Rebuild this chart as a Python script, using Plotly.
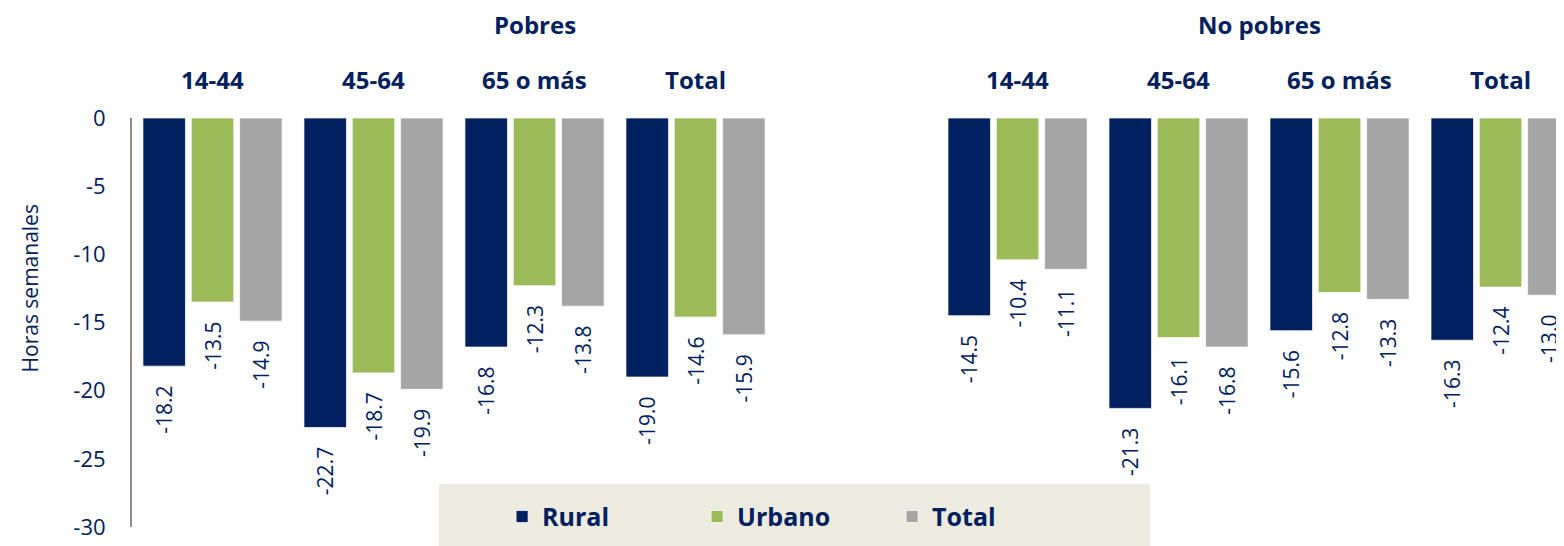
import plotly.graph_objects as go

# slots 0-3 = Pobres, slot 4 empty, slots 5-8 = No pobres
categories = ["14-44", "45-64", "65 o más", "Total", "", "14-44", "45-64", "65 o más", "Total"]
slots = [0, 1, 2, 3, 5, 6, 7, 8]
groups = ["Pobres", "No pobres"]

rural = [-18.2, -22.7, -16.8, -19.0, -14.5, -21.3, -15.6, -16.3]
urbano = [-13.5, -18.7, -12.3, -14.6, -10.4, -16.1, -12.8, -12.4]
total = [-14.9, -19.9, -13.8, -15.9, -11.1, -16.8, -13.3, -13.0]

yticks = [0, -5, -10, -15, -20, -25, -30]

navy = "#002060"
font_main = "Open Sans"

series = [("Rural", rural, "#002060"), ("Urbano", urbano, "#9bbb59"), ("Total", total, "#a5a5a5")]

fig = go.Figure()
for name, vals, col in series:
    fig.add_trace(go.Bar(
        x=slots, y=vals, name="<b>" + name + "</b>",
        marker=dict(color=col, line=dict(color="rgba(255,255,255,0.7)", width=1)),
        # trailing nbsp pushes the rotated label away from the bar end
        text=[f"{v:.1f}\u00a0\u00a0\u00a0" for v in vals], textposition="outside", textangle=-90,
        textfont=dict(family=font_main, size=21, color=navy),
        constraintext="none", cliponaxis=False,
    ))

# category labels above plot
for i, c in enumerate(categories):
    if c:
        fig.add_annotation(x=i, y=1.093, xref="x", yref="paper", yanchor="middle",
                           text="<b>" + c + "</b>", showarrow=False,
                           font=dict(family=font_main, size=24, color=navy))
# group titles
for gx, g in zip([2.0, 6.5], groups):
    fig.add_annotation(x=gx, y=1.228, xref="x", yref="paper", yanchor="middle",
                       text="<b>" + g + "</b>", showarrow=False,
                       font=dict(family=font_main, size=24, color=navy))

# y axis title
fig.add_annotation(x=-0.071, y=0.584, xref="paper", yref="paper", xanchor="center", yanchor="middle",
                   text="Horas semanales", textangle=-90, showarrow=False,
                   font=dict(family=font_main, size=21, color=navy))

# legend background
fig.add_shape(type="rect", xref="paper", yref="paper", x0=0.2144, x1=0.711, y0=-0.06, y1=0.105,
              fillcolor="#edebe0", line=dict(width=0), layer="above")

fig.update_layout(
    width=1556, height=538,
    margin=dict(l=124, r=0, t=110, b=19),
    barmode="group", bargap=0.1, bargroupgap=0.12,
    plot_bgcolor="white", paper_bgcolor="white",
    showlegend=True,
    legend=dict(orientation="h", x=0.4627, xanchor="center", y=0.025, yanchor="middle",
                bgcolor="rgba(0,0,0,0)", entrywidth=150, entrywidthmode="pixels",
                font=dict(family=font_main, size=25, color=navy), itemclick=False),
    xaxis=dict(range=[-0.5, 8.394], showticklabels=False, showgrid=False, zeroline=False,
               showline=False, fixedrange=True),
    yaxis=dict(range=[-30, 0], tickvals=yticks, ticktext=[str(t) for t in yticks],
               showgrid=False, zeroline=False, showline=True, linecolor="#8c8c8c", linewidth=2,
               ticks="outside", ticklen=20, tickcolor="rgba(0,0,0,0)",
               tickfont=dict(family=font_main, size=22, color=navy)),
)

fig.write_html("out.html")
